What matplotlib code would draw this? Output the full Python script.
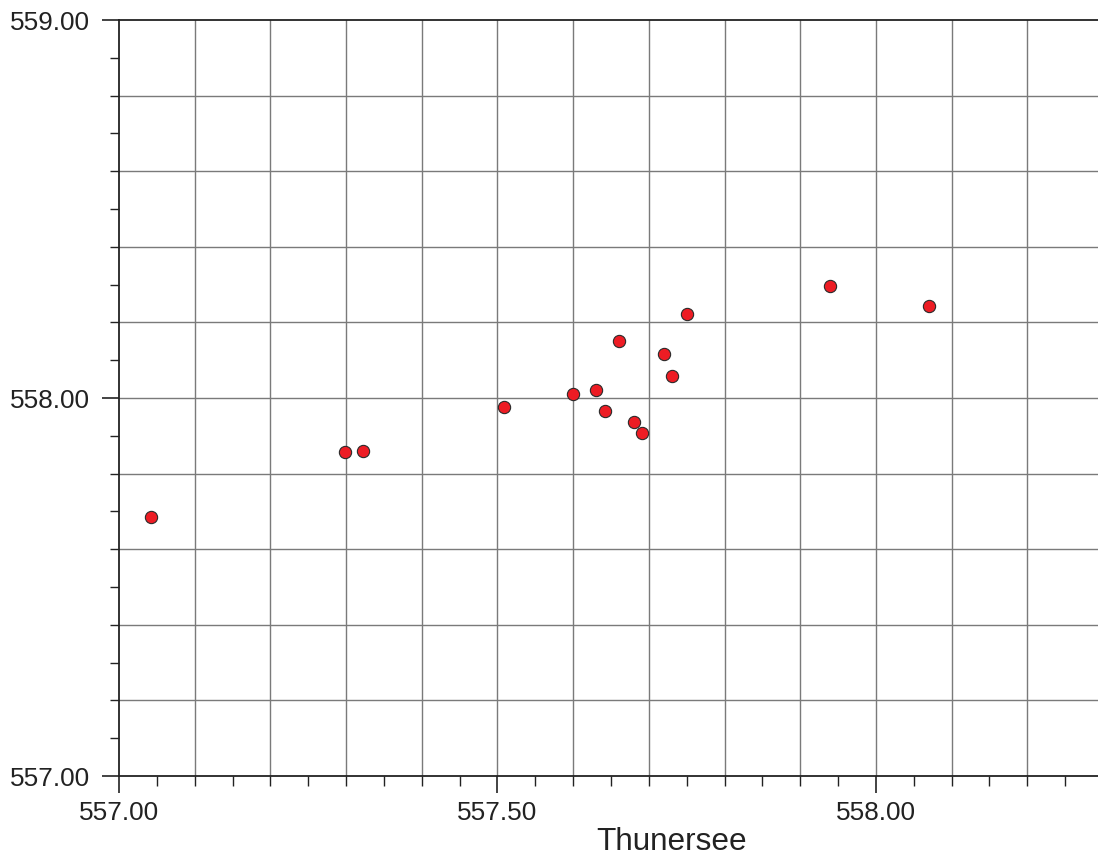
import numpy as np
import matplotlib.pyplot as plt
from matplotlib.ticker import FixedLocator, FixedFormatter

x_vals = [557.042, 557.299, 557.322, 557.509, 557.600, 557.630, 557.642, 557.660,
          557.680, 557.691, 557.720, 557.731, 557.751, 557.939, 558.070]
y_vals = [557.685, 557.857, 557.860, 557.976, 558.011, 558.020, 557.966, 558.150,
          557.937, 557.907, 558.116, 558.058, 558.221, 558.296, 558.243]

x_major = [557.0, 557.5, 558.0]
x_labels = ["557.00", "557.50", "558.00"]
y_major = [557.0, 558.0, 559.0]
y_labels = ["557.00", "558.00", "559.00"]
x_label = "Thunersee"

plt.rcParams['font.family'] = ['Liberation Sans', 'DejaVu Sans']

fig = plt.figure(figsize=(10.98, 8.57), dpi=100)
W, H = 1098, 857
ax = fig.add_axes([119 / W, 81 / H, 984 / W, 756 / H])

ax.set_xlim(557.0, 558.3)
ax.set_ylim(557.0, 559.0)

# Raster
for gx in np.arange(557.1, 558.3, 0.1):
    ax.axvline(gx, color='#7a7a7a', lw=1.0, zorder=1)
for gy in np.arange(557.2, 559.0, 0.2):
    ax.axhline(gy, color='#7a7a7a', lw=1.0, zorder=1)

ax.scatter(x_vals, y_vals, s=78, facecolor='#ed1c24', edgecolor='#2b2b2b',
           linewidths=0.8, zorder=3, clip_on=False)

ax.xaxis.set_major_locator(FixedLocator(x_major))
ax.xaxis.set_major_formatter(FixedFormatter(x_labels))
ax.yaxis.set_major_locator(FixedLocator(y_major))
ax.yaxis.set_major_formatter(FixedFormatter(y_labels))
ax.xaxis.set_minor_locator(FixedLocator(np.arange(557.0, 558.31, 0.05)))
ax.yaxis.set_minor_locator(FixedLocator(np.arange(557.0, 559.01, 0.1)))

ax.tick_params(axis='both', which='major', direction='out', length=12.2, width=1.2,
               color='#222222', labelsize=18.8, labelcolor='#222222')
ax.tick_params(axis='y', which='major', pad=8.5)
ax.tick_params(axis='x', which='major', pad=6)
ax.tick_params(axis='y', which='minor', direction='out', length=6.5, width=1.0, color='#222222')
ax.tick_params(axis='x', which='minor', direction='out', length=7, width=1.0, color='#222222')

for sp in ['left', 'bottom', 'top']:
    ax.spines[sp].set_linewidth(1.3)
    ax.spines[sp].set_color('#222222')
ax.spines['right'].set_visible(False)

fig.text(672 / W, 1 - 850 / H, x_label, ha='center', va='baseline',
         fontsize=22.7, color='#222222')

fig.savefig('out.png', dpi=100)
